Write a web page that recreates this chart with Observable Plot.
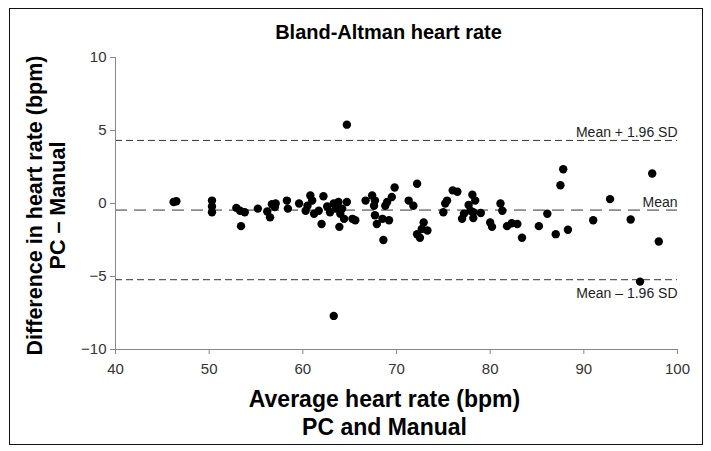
<!DOCTYPE html>
<html>
<head>
<meta charset="utf-8">
<script src="https://cdn.jsdelivr.net/npm/d3@7"></script>
<script src="https://cdn.jsdelivr.net/npm/@observablehq/plot@0.6"></script>
<style>
  html, body { margin: 0; padding: 0; background: #fff; }
  #wrap { position: relative; width: 711px; height: 451px; }
  #border { position: absolute; left: 9px; top: 8px; width: 694px; height: 437px; border: 1.5px solid #111; box-sizing: border-box; pointer-events: none; }
  #chart { position: absolute; left: 0; top: 0; }
</style>
</head>
<body>
<div id="wrap"><div id="chart"></div><div id="border"></div></div>
<script>
const title = "Bland-Altman heart rate";
const xLabel1 = "Average heart rate (bpm)";
const xLabel2 = "PC and Manual";
const yLabel1 = "Difference in heart rate (bpm)";
const yLabel2 = "PC \u2013 Manual";

const xTicks = [40, 50, 60, 70, 80, 90, 100];
const yTicks = [-10, -5, 0, 5, 10];

// Average heart rate (x) and difference (y)
const avgHR = [46.2, 46.5, 50.3, 50.3, 50.3, 52.9, 53.3, 53.8, 53.4, 55.2,
  56.2, 56.7, 56.5, 57.0, 57.1, 58.3, 58.4, 59.6, 60.3, 60.5,
  60.8, 61.0, 61.2, 61.7, 62.0, 62.2, 62.6, 62.9, 63.3, 63.5,
  63.8, 64.0, 63.9, 64.2, 64.4, 64.7, 65.3, 65.6, 66.7, 67.4,
  67.7, 67.6, 67.7, 67.9, 68.5, 69.2, 68.6, 68.8, 69.0, 69.5,
  69.8, 71.3, 71.8, 72.2, 72.9, 72.7, 72.2, 72.5, 73.3, 75.0,
  75.2, 75.4, 76.0, 76.5, 77.0, 77.2, 77.7, 78.1, 77.9, 78.2,
  78.4, 78.2, 79.0, 80.0, 80.2, 81.1, 81.3, 81.8, 82.3, 82.9,
  83.4, 85.2, 86.1, 87.0, 87.5, 87.8, 88.3, 91.0, 92.8, 95.0,
  97.3, 98.0, 96.0, 64.7, 63.3];
const diffHR = [0.1, 0.15, 0.2, -0.2, -0.6, -0.3, -0.5, -0.6, -1.55, -0.35,
  -0.55, -0.05, -0.95, -0.25, 0.0, 0.2, -0.35, 0.0, -0.5, -0.15,
  0.55, 0.2, -0.7, -0.5, -1.4, 0.5, -0.2, -0.6, 0.0, -0.35,
  0.1, -0.7, -1.6, -0.35, -1.05, 0.1, -1.05, -1.15, 0.2, 0.55,
  0.2, -0.15, -0.8, -1.4, -1.05, -1.15, -2.5, -0.15, 0.1, 0.45,
  1.1, 0.2, -0.15, 1.35, -1.3, -1.75, -2.1, -2.35, -1.85, -0.6,
  0.0, 0.2, 0.9, 0.8, -1.05, -0.7, -0.1, 0.6, -0.5, -1.0,
  0.2, -0.6, -0.65, -1.3, -1.6, 0.0, -0.5, -1.55, -1.35, -1.4,
  -2.35, -1.55, -0.7, -2.1, 1.25, 2.35, -1.8, -1.15, 0.3, -1.1,
  2.05, -2.6, -5.35, 5.4, -7.7];

const meanValue = [-0.45];
const limitValues = [4.32, -5.22];
const meanLabel = ["Mean"];
const upperLabel = ["Mean + 1.96 SD"];
const lowerLabel = ["Mean \u2013 1.96 SD"];

const points = avgHR.map((x, i) => ({x, y: diffHR[i]}));

const font = "'Liberation Sans', Arial, Helvetica, sans-serif";

const chart = Plot.plot({
  width: 711,
  height: 451,
  marginLeft: 115,
  marginRight: 34,
  marginTop: 57,
  marginBottom: 102,
  style: {fontFamily: font, background: "white", color: "#222"},
  x: {domain: [40, 100]},
  y: {domain: [-10, 10]},
  marks: [
    Plot.ruleY(meanValue, {stroke: "#333", strokeWidth: 1, strokeDasharray: "12,7"}),
    Plot.ruleY(limitValues, {stroke: "#333", strokeWidth: 1, strokeDasharray: "7,4"}),
    Plot.ruleX([40], {stroke: "#888", strokeWidth: 1}),
    Plot.ruleY([-10], {stroke: "#888", strokeWidth: 1}),
    Plot.axisX({ticks: xTicks, tickSize: 5, tickPadding: 9, label: null, fontSize: 15, stroke: "#888", color: "#333"}),
    Plot.axisY({ticks: yTicks, tickSize: 5, tickPadding: 4, label: null, fontSize: 15, stroke: "#888", color: "#333"}),
    Plot.dot(points, {x: "x", y: "y", r: 4.2, fill: "#000", stroke: "none"}),
    Plot.text(upperLabel, {y: limitValues.slice(0, 1), frameAnchor: "right", textAnchor: "end", lineAnchor: "bottom", dy: -3, fontSize: 14, fill: "#222"}),
    Plot.text(meanLabel, {y: meanValue, frameAnchor: "right", textAnchor: "end", lineAnchor: "bottom", dy: -3, fontSize: 14, fill: "#222"}),
    Plot.text(lowerLabel, {y: limitValues.slice(1, 2), frameAnchor: "right", textAnchor: "end", lineAnchor: "top", dy: 8, fontSize: 14, fill: "#222"}),
    Plot.text([title], {frameAnchor: "top", lineAnchor: "middle", dy: -25, dx: -8, fontSize: 20, fontWeight: "bold", fill: "#000"}),
    Plot.text([xLabel1], {frameAnchor: "bottom", lineAnchor: "middle", dy: 50, dx: -12, fontSize: 23, fontWeight: "bold", fill: "#000"}),
    Plot.text([xLabel2], {frameAnchor: "bottom", lineAnchor: "middle", dy: 78, dx: -12, fontSize: 23, fontWeight: "bold", fill: "#000"}),
    Plot.text([yLabel1], {frameAnchor: "left", dx: -80, dy: 2, rotate: -90, textAnchor: "middle", fontSize: 21.5, fontWeight: "bold", fill: "#000"}),
    Plot.text([yLabel2], {frameAnchor: "left", dx: -57, dy: 2, rotate: -90, textAnchor: "middle", fontSize: 21.5, fontWeight: "bold", fill: "#000"})
  ]
});
document.getElementById("chart").appendChild(chart);
</script>
</body>
</html>
